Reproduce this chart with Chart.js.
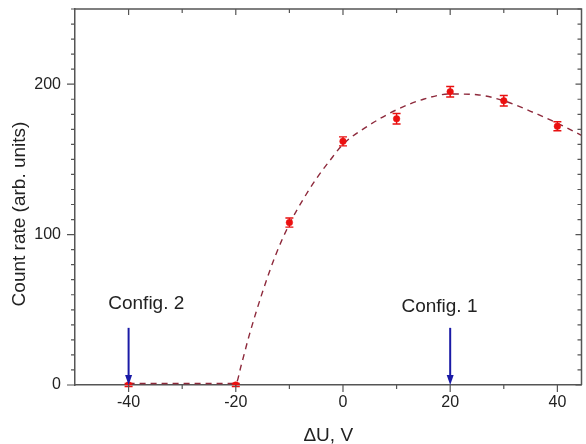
<!DOCTYPE html>
<html lang="en">
<head>
    <meta charset="UTF-8">
    <title>Count rate vs ΔU</title>
    <script src="https://cdn.jsdelivr.net/npm/chart.js"></script>
    <style>
        html, body {
            margin: 0;
            padding: 0;
            background: #ffffff;
        }
        #wrap {
            width: 586px;
            height: 444px;
        }
    </style>
</head>
<body>
    <div id="wrap"><canvas id="chartCanvas"></canvas></div>

    <script>
        // measured points
        const voltage = [-40, -20, -10, 0, 10, 20, 30, 40];
        const countRate = [0, 0, 108, 162, 177, 195, 189, 172];
        const countErr = [1, 1, 3, 3, 3.5, 3.5, 3.5, 3];

        // fit curve
        const fitX = [-40, -30, -20, -19, -17.5, -15, -12.5, -10, -7.5, -5, -2.5, 0, 5, 10, 15, 20, 25, 30, 35, 40, 44.5];
        const fitY = [1, 1, 1, 13, 33, 62, 87, 107, 123, 137, 149, 160, 173, 183, 190, 193.5, 193, 189, 182, 174, 166];

        // arrows + labels
        const arrowX = [-40, 20];
        const arrowTop = 38;
        const configLabels = ['Config. 2', 'Config. 1'];
        const configLabelX = [-36.7, 18.0];
        const configLabelY = [50.5, 48.5];

        // ticks
        const xTickValues = [-40, -20, 0, 20, 40];
        const xMinorValues = [-30, -10, 10, 30];
        const yTickValues = [0, 100, 200];

        const axisColor = '#555555';
        const textColor = '#222222';
        const fontFamily = '"Liberation Sans", Arial, sans-serif';

        const toPoints = (xs, ys) => xs.map((v, i) => ({ x: v, y: ys[i] }));

        // frame, mirrored ticks, error bars, arrows, labels
        const decorations = {
            id: 'decorations',
            afterDatasetsDraw(chart) {
                const { ctx, scales: { x, y } } = chart;
                ctx.save();

                // error bars
                ctx.strokeStyle = '#e81010';
                ctx.lineWidth = 1.4;
                voltage.forEach((v, i) => {
                    const px = x.getPixelForValue(v);
                    const top = y.getPixelForValue(countRate[i] + countErr[i]);
                    const bot = y.getPixelForValue(countRate[i] - countErr[i]);
                    ctx.beginPath();
                    ctx.moveTo(px, top); ctx.lineTo(px, bot);
                    ctx.moveTo(px - 4, top); ctx.lineTo(px + 4, top);
                    ctx.moveTo(px - 4, bot); ctx.lineTo(px + 4, bot);
                    ctx.stroke();
                });

                // arrows
                ctx.strokeStyle = '#1a1aa6';
                ctx.fillStyle = '#1a1aa6';
                ctx.lineWidth = 2;
                arrowX.forEach(v => {
                    const px = x.getPixelForValue(v);
                    const t = y.getPixelForValue(arrowTop);
                    const b = y.getPixelForValue(0);
                    ctx.beginPath();
                    ctx.moveTo(px, t); ctx.lineTo(px, b - 8);
                    ctx.stroke();
                    ctx.beginPath();
                    ctx.moveTo(px - 3.5, b - 10);
                    ctx.lineTo(px + 3.5, b - 10);
                    ctx.lineTo(px, b);
                    ctx.closePath();
                    ctx.fill();
                });

                // config labels
                ctx.fillStyle = textColor;
                ctx.font = '19px ' + fontFamily;
                ctx.textAlign = 'center';
                ctx.textBaseline = 'alphabetic';
                configLabels.forEach((s, i) => {
                    ctx.fillText(s, x.getPixelForValue(configLabelX[i]), y.getPixelForValue(configLabelY[i]));
                });

                ctx.restore();
            },
            afterDraw(chart) {
                const { ctx, chartArea: a, scales: { x, y } } = chart;
                ctx.save();
                ctx.strokeStyle = axisColor;
                ctx.lineWidth = 1.5;

                // top and right frame
                ctx.beginPath();
                ctx.moveTo(a.left, a.top);
                ctx.lineTo(a.right, a.top);
                ctx.lineTo(a.right, a.bottom);
                ctx.stroke();

                ctx.lineWidth = 1.2;
                ctx.beginPath();
                // x ticks: bottom outward, top inward
                const xTick = (v, outLen, inLen) => {
                    const px = x.getPixelForValue(v);
                    ctx.moveTo(px, a.bottom); ctx.lineTo(px, a.bottom + outLen);
                    ctx.moveTo(px, a.top); ctx.lineTo(px, a.top + inLen);
                };
                xTickValues.forEach(v => xTick(v, 7, 6));
                xMinorValues.forEach(v => xTick(v, 4, 4));

                // y ticks: left outward, right inward
                for (let v = 0; v <= 250; v += 10) {
                    const major = yTickValues.includes(v);
                    const py = y.getPixelForValue(v);
                    ctx.moveTo(a.left, py); ctx.lineTo(a.left - (major ? 8 : 4), py);
                    ctx.moveTo(a.right, py); ctx.lineTo(a.right - (major ? 6 : 4), py);
                }
                ctx.stroke();

                // y axis title
                ctx.fillStyle = textColor;
                ctx.font = '19px ' + fontFamily;
                ctx.textAlign = 'center';
                ctx.textBaseline = 'middle';
                ctx.translate(19.5, 214);
                ctx.rotate(-Math.PI / 2);
                ctx.fillText('Count rate (arb. units)', 0, 0);
                ctx.restore();
            }
        };

        new Chart(document.getElementById('chartCanvas'), {
            type: 'scatter',
            data: {
                datasets: [{
                    label: 'fit',
                    data: toPoints(fitX, fitY),
                    showLine: true,
                    borderColor: '#8e2a3c',
                    borderWidth: 1.4,
                    borderDash: [6, 5],
                    pointRadius: 0,
                    cubicInterpolationMode: 'monotone',
                    order: 2
                }, {
                    label: 'Count rate',
                    data: toPoints(voltage, countRate),
                    pointRadius: 3.3,
                    pointBackgroundColor: '#ec1010',
                    pointBorderColor: '#ec1010',
                    pointBorderWidth: 0.5,
                    order: 1
                }]
            },
            options: {
                responsive: true,
                maintainAspectRatio: false,
                animation: false,
                layout: {
                    padding: { top: 9, right: 4, left: 0, bottom: 0 }
                },
                plugins: {
                    legend: { display: false },
                    tooltip: { enabled: false }
                },
                scales: {
                    x: {
                        type: 'linear',
                        min: -50,
                        max: 44.5,
                        afterBuildTicks: (scale) => {
                            scale.ticks = xTickValues.map(v => ({ value: v }));
                        },
                        afterFit: (scale) => {
                            scale.height = 59;
                            scale.paddingLeft = 0;
                            scale.paddingRight = 0;
                        },
                        grid: { display: false, drawTicks: false },
                        border: { display: true, color: axisColor, width: 1.5 },
                        ticks: {
                            padding: 8,
                            color: textColor,
                            font: { family: fontFamily, size: 16 },
                            maxRotation: 0
                        },
                        title: {
                            display: true,
                            text: 'ΔU, V',
                            color: textColor,
                            font: { family: fontFamily, size: 19, lineHeight: 1 },
                            padding: { top: 0, bottom: -1 }
                        }
                    },
                    y: {
                        type: 'linear',
                        min: 0,
                        max: 250,
                        afterBuildTicks: (scale) => {
                            scale.ticks = yTickValues.map(v => ({ value: v }));
                        },
                        afterFit: (scale) => {
                            scale.width = 75;
                            scale.paddingTop = 0;
                            scale.paddingBottom = 0;
                        },
                        grid: { display: false, drawTicks: false },
                        border: { display: true, color: axisColor, width: 1.5 },
                        ticks: {
                            padding: 14,
                            color: textColor,
                            font: { family: fontFamily, size: 16 }
                        }
                    }
                }
            },
            plugins: [decorations]
        });
    </script>
</body>
</html>
